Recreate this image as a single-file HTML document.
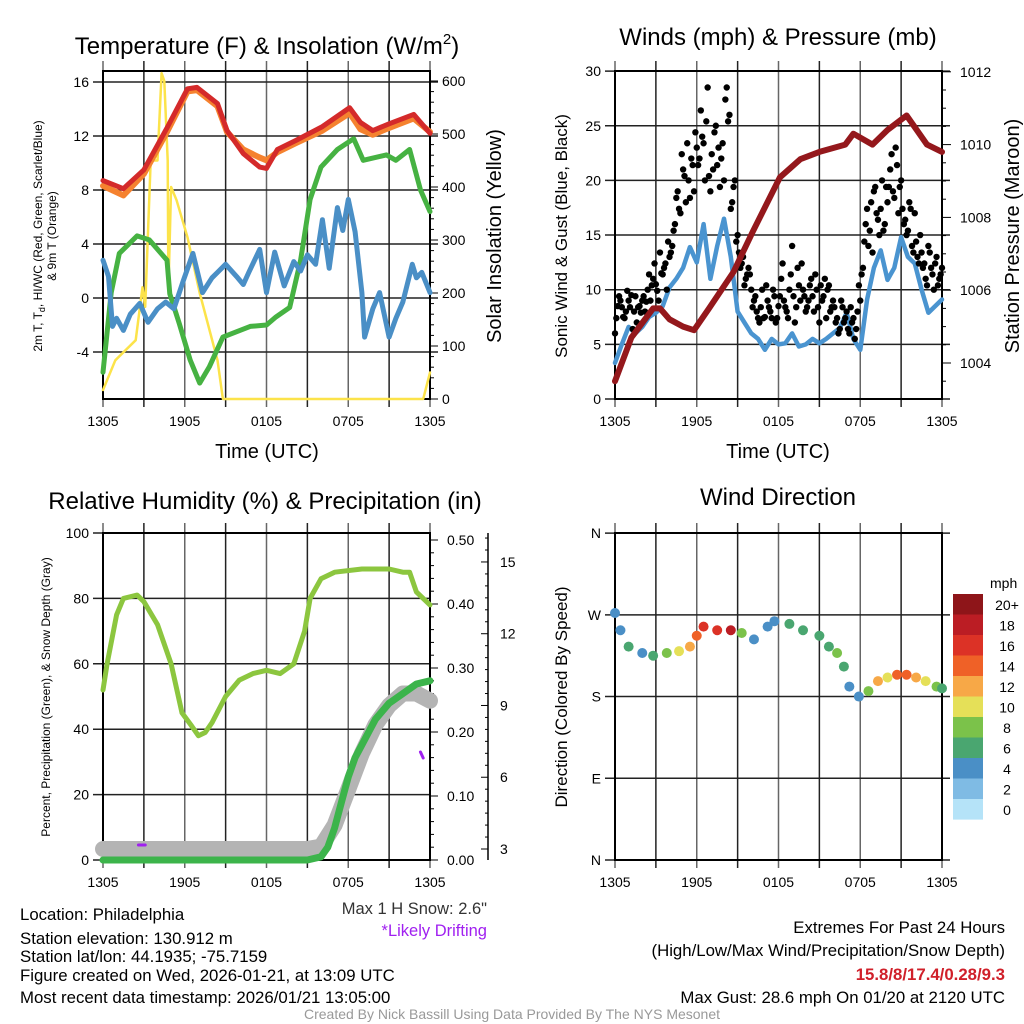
<!DOCTYPE html>
<html><head><meta charset="utf-8">
<style>
html,body{margin:0;padding:0;background:#fff;}
svg{display:block;font-family:"Liberation Sans",sans-serif;}
</style></head>
<body>
<svg id="c" width="1024" height="1024" viewBox="0 0 1024 1024" xmlns="http://www.w3.org/2000/svg">
<rect width="1024" height="1024" fill="#fff"/>
<text x="267" y="54" font-size="24" text-anchor="middle">Temperature (F) &amp; Insolation (W/m<tspan font-size="15" dy="-10">2</tspan><tspan dy="10">)</tspan></text>
<text x="778" y="45" font-size="24" text-anchor="middle">Winds (mph) &amp; Pressure (mb)</text>
<text x="265" y="509" font-size="24" text-anchor="middle">Relative Humidity (%) &amp; Precipitation (in)</text>
<text x="778" y="505" font-size="24" text-anchor="middle">Wind Direction</text>
<g id="g1"></g>
<g id="g2"></g>
<g id="g3"></g>
<g id="g4"></g>
<text x="267" y="458" font-size="20" text-anchor="middle">Time (UTC)</text>
<text x="778" y="458" font-size="20" text-anchor="middle">Time (UTC)</text>
<text transform="translate(42,236) rotate(-90)" font-size="12" text-anchor="middle">2m T, T<tspan font-size="9" dy="3">d</tspan><tspan dy="-3">, HI/WC (Red, Green, Scarlet/Blue)</tspan></text>
<text transform="translate(56,236) rotate(-90)" font-size="12" text-anchor="middle">&amp; 9m T (Orange)</text>
<text transform="translate(501,236) rotate(-90)" font-size="20" text-anchor="middle">Solar Insolation (Yellow)</text>
<text transform="translate(567,236) rotate(-90)" font-size="17" text-anchor="middle">Sonic Wind &amp; Gust (Blue, Black)</text>
<text transform="translate(1019,236) rotate(-90)" font-size="20" text-anchor="middle">Station Pressure (Maroon)</text>
<text transform="translate(50,697) rotate(-90)" font-size="12" text-anchor="middle">Percent, Precipitation (Green), &amp; Snow Depth (Gray)</text>
<text transform="translate(567,697) rotate(-90)" font-size="17" text-anchor="middle">Direction (Colored By Speed)</text>
<text x="487" y="914" font-size="16.5" text-anchor="end" fill="#333">Max 1 H Snow: 2.6"</text>
<text x="487" y="936" font-size="16.5" text-anchor="end" fill="#a020f0">*Likely Drifting</text>
<g font-size="16.8">
<text x="20" y="920">Location: Philadelphia</text>
<text x="20" y="944">Station elevation: 130.912 m</text>
<text x="20" y="962">Station lat/lon: 44.1935; -75.7159</text>
<text x="20" y="981">Figure created on Wed, 2026-01-21, at 13:09 UTC</text>
<text x="20" y="1003">Most recent data timestamp: 2026/01/21 13:05:00</text>
</g>
<g font-size="16.8" text-anchor="end">
<text x="1005" y="933">Extremes For Past 24 Hours</text>
<text x="1005" y="956">(High/Low/Max Wind/Precipitation/Snow Depth)</text>
<text x="1005" y="980" fill="#d0202a" font-weight="bold">15.8/8/17.4/0.28/9.3</text>
<text x="1005" y="1003">Max Gust: 28.6 mph On 01/20 at 2120 UTC</text>
</g>
<text x="512" y="1019" font-size="14" fill="#999" text-anchor="middle">Created By Nick Bassill Using Data Provided By The NYS Mesonet</text>
</svg>
<script>
const tempH=[0,1.5,3,4.7,6.2,6.9,8.4,9.1,10.3,11.5,12,12.8,14.2,16.1,18.1,18.9,19.8,21,22.8,24];
const tempV=[8.7,8.1,9.5,12.6,15.5,15.6,14.4,12.4,10.7,9.7,9.6,11,11.7,12.7,14.1,13,12.4,12.9,13.6,12.2];
const t9V=[8.3,7.6,9.2,12.3,15.3,15.4,14.2,12.3,11,10.4,10.2,10.8,11.5,12.4,13.7,12.5,12.1,12.6,13.3,12.3];
const hiH=[0,0.4,0.7,1,1.5,2,2.7,3.3,4,4.6,5.2,5.9,6.6,7.3,8,8.4,9,9.8,10.3,10.7,11.5,12,12.6,13.3,14,14.5,15,15.6,16.1,16.6,17.2,17.6,18,18.5,19,19.2,19.8,20.3,21,21.5,22,22.7,23,23.4,24];
const hiV=[2.8,1.6,-2.1,-1.5,-2.4,-1.2,-0.4,-1.8,-0.8,-0.3,-0.8,1.3,3.3,0.4,1.5,1.9,2.5,1.6,1,1.9,3.6,0.4,3.4,0.9,2.7,2,3.2,2.5,5.8,2.2,6.7,5,7.3,4.9,0.4,-2.9,-0.8,0.4,-2.9,-1.5,-0.3,2.5,1.5,1.9,0.4];
const tdH=[0,0.6,1.2,2.5,3.4,4.7,4.9,5.6,6.4,7.1,7.8,8.8,10.8,12,12.7,13.7,14.5,15.2,16,17.2,18.4,19.1,20.8,21.5,22.5,23.3,24];
const tdV=[-5.5,0.4,3.3,4.6,4.3,2.8,0.3,-1.9,-4.6,-6.3,-5.1,-2.9,-2.1,-2,-1.4,-0.7,2.8,7.3,9.7,11,11.8,10.2,10.6,10.2,11,8,6.4];
const sH=[0,0.9,2.4,2.9,3.1,3.5,4,4.3,4.5,4.75,4.8,5,5.4,6.2,7.1,8.4,8.8,23.5,24];
const sV=[17,73,111,211,174,450,450,615,600,450,205,400,375,305,200,73,0,0,50];
const windV=[3.3,5,6.6,6,6.6,7.5,7.9,8.5,10.2,11,12,13.9,12.5,16,11,14,16.5,13,8,7,6,5.5,4.5,5.5,5,5.1,6,4.8,5,5.5,5.1,5.5,6,6.5,7.9,5.5,4.5,9.1,12,13.6,10.9,12,14.8,13,12.4,10,7.9,8.5,9.1];
const gustA=[6,8.5,9,7.5,8,9,9.5,8,7,8.5,9,8,10,9,11,10.5,9,11.5,12,10,13,14,16,19,17,21,18,20,22,19,23,22,24,20,28.5,19,21,25,23,22,20,28.5,26,18,20,15,12,13,11,12,10,9,8,7,10,7.5,9,8,10,7,8.5,11,9,8,10,14,7,12,9,10,8,9,11,8,10,7,9,11,10,8,9,7,6,9,7,8,6,7,5.5,8,9,12,16,14,18,19,17,15,20,16,18,21,19,23,17,20,16,15,18,14,17,13,15,12,11,14,12,10,13,11,12];
const gustB=[7,9,8,7,9.5,8,6,9,8,7.5,9,8.5,11,10,12,9.5,13,11,12,14,13,15,18,17,22,20,23,18,21,24,21,26,23,25,20,22,24,21,19,23,27,25,17,19,14,13,12,10,11,11,8,9,7,8,7,10,8,7,9,7,9,12,8,7,11,9,8,10,12,9,8,10,9,11,8,10,9,7,10,8,8,7,6,8,7,6,8,7,6,10,11,14,17,15,13,19,16,17,15,19,19,22,18,21,19,17,16,15,17,13,14,12,13,12,10,13,11,12,10,11];
const pH=[0,1.2,2.8,3.3,4,5,5.8,6.9,8.7,10.1,12.1,13.6,15,16.9,17.5,18.9,20,21.4,22.9,24];
const pV=[1003.5,1004.7,1005.5,1005.5,1005.2,1005,1004.9,1005.5,1006.5,1007.6,1009.1,1009.6,1009.8,1010,1010.3,1010,1010.4,1010.8,1010,1009.8];
const rhH=[0,0.3,1,1.5,2.5,3,4,5,5.8,6.5,7,7.5,8,9,10,11,12,13,14,14.8,15.2,16,17,19,21,22,22.5,23,24];
const rhV=[52,60,75,80,81,79,72,60,45,41,38,39,42,50,55,57,58,57,60,70,80,86,88,89,89,88,88,82,78];
const prH=[0,15,16,16.5,17,17.5,18,18.5,19,19.5,20,21,22,23,24];
const prV=[0,0,0.005,0.02,0.05,0.09,0.13,0.16,0.18,0.2,0.22,0.245,0.26,0.275,0.28];
const snH=[0,15,16,17,18,19,20,21,22,23,24];
const snV=[3,3,3.1,4,5.5,7,8.2,9,9.5,9.5,9.2];
const dirH=[0,0.4,1,2,2.8,3.8,4.7,5.5,6,6.5,7.5,8.5,9.3,10.2,11.2,11.7,12.8,13.8,15,15.7,16.3,16.8,17.2,17.9,18.6,19.3,20,20.7,21.4,22.1,22.8,23.6,24];
const dirV=[272,253,235,228,225,228,230,235,247,257,253,253,250,243,257,263,260,253,247,235,228,213,191,180,186,197,201,204,204,201,197,191,189];
const dirS=[4,4,6,5,6,8,10,12,14,16,17,18,8,5,4,4,6,6,6,7,8,6,4,4,9,12,11,14,14,12,10,8,7];
const xLabels=["1305","1905","0105","0705","1305"];
const cbLabels=["20+","18","16","14","12","10","8","6","4","2","0"];
const cbColors=["#8e1519","#bb1d24","#dc3226","#ef6127","#f7a847","#e5e058","#7bc24a","#4aa670","#4a8fc6","#7fbbe4","#b5e3f8"];

const NS="http://www.w3.org/2000/svg";
function mk(p,tag,at){const e=document.createElementNS(NS,tag);for(const k in at)e.setAttribute(k,at[k]);p.appendChild(e);return e;}
function line(p,xs,ys,fx,fy,col,w,name){
  let d="";for(let i=0;i<xs.length;i++)d+=(i?"L":"M")+fx(xs[i]).toFixed(1)+","+fy(ys[i]).toFixed(1);
  const e=mk(p,"path",{d:d,fill:"none",stroke:col,"stroke-width":w,"stroke-linejoin":"round","stroke-linecap":"round"});
  
  
  return e;
}
function frame(p,x0,x1,y0,y1,yt,ytl,ylab){
  for(let k=0;k<=8;k++){const x=x0+(x1-x0)*k/8;mk(p,"line",{x1:x,y1:y0-10,x2:x,y2:y1+8,stroke:k%2?"#222":"#666","stroke-width":1.5});}
  for(let i=0;i<yt.length;i++){const y=yt[i];mk(p,"line",{x1:x0-10,y1:y,x2:x1+(ylab?0:8),y2:y,stroke:"#222","stroke-width":1.5});
    if(ytl){const t=mk(p,"text",{x:x0-14,y:y+5,"font-size":14,"text-anchor":"end"});t.textContent=ytl[i];}}
  mk(p,"rect",{x:x0,y:y0,width:x1-x0,height:y1-y0,fill:"none",stroke:"#000","stroke-width":2});
  for(let k=0;k<5;k++){const t=mk(p,"text",{x:x0+(x1-x0)*k/4,y:y1+27,"font-size":14,"text-anchor":"middle"});t.textContent=xLabels[k];
    }
}
(function(){
  const g=document.getElementById("g1");const x0=103,x1=430;
  const X=h=>x0+h/24*(x1-x0), YT=v=>298-v*13.5, YS=v=>399-v*0.53;
  const yt=[],ytl=[];for(let v=16;v>=-4;v-=4){yt.push(YT(v));ytl.push(String(v));}
  frame(g,x0,x1,71,399,yt,ytl);
  for(let v=0;v<=640;v+=20){const y=YS(v);if(y<71)break;mk(g,"line",{x1:x1,y1:y,x2:x1+(v%100?4:8),y2:y,stroke:"#000","stroke-width":1});}
  for(let v=0;v<=600;v+=100){const t=mk(g,"text",{x:x1+12,y:YS(v)+5,"font-size":14});t.textContent=v;}
  line(g,sH,sV,X,YS,"#fce34a",2.5,"solar-line");
  line(g,tdH,tdV,X,YT,"#46b242",5,"dewpoint-line");
  line(g,hiH,hiV,X,YT,"#4a8fc6",5,"heat-index-line");
  line(g,tempH,t9V,X,YT,"#f5822f",6,"temp-9m-line");
  line(g,tempH,tempV,X,YT,"#d42a2a",5,"temp-2m-line");
})();
(function(){
  const g=document.getElementById("g2");const x0=615,x1=942;
  const X=h=>x0+h/24*(x1-x0), YW=v=>399-v*10.93, YP=v=>363-(v-1004)*36.4;
  const yt=[],ytl=[];for(let v=30;v>=0;v-=5){yt.push(YW(v));ytl.push(String(v));}
  frame(g,x0,x1,71,399,yt,ytl);
  for(let v=1003;v<=1012;v+=0.5){const y=YP(v);if(y>399)continue;mk(g,"line",{x1:x1,y1:y,x2:x1+(v%2?4:9),y2:y,stroke:"#000","stroke-width":1});}
  for(let v=1004;v<=1012;v+=2){const t=mk(g,"text",{x:x1+18,y:YP(v)+5,"font-size":14});t.textContent=v;}
  const wH=windV.map((_,i)=>i*0.5);
  line(g,wH,windV,X,YW,"#4a94d0",4.5,"sustained-wind-line");
  gustA.forEach((v,i)=>{const c=mk(g,"circle",{cx:X(i*0.2),cy:YW(v),r:3.2,fill:"#000"});});
  gustB.forEach((v,i)=>{const c=mk(g,"circle",{cx:X(0.1+i*0.2),cy:YW(v+0.4),r:3.2,fill:"#000"});});
  line(g,pH,pV,X,YP,"#94181c",6,"pressure-line");
})();
(function(){
  const g=document.getElementById("g3");const x0=103,x1=430;
  const X=h=>x0+h/24*(x1-x0), YR=v=>860-v*3.27, YPr=v=>860-v*640, YSn=v=>849-(v-3)*23.92;
  const yt=[],ytl=[];for(let v=100;v>=0;v-=20){yt.push(YR(v));ytl.push(String(v));}
  frame(g,x0,x1,533,860,yt,ytl,true);
  for(let v=0;v<=0.5001;v+=0.02){const y=YPr(v);mk(g,"line",{x1:x1,y1:y,x2:x1+(Math.round(v*100)%10?4:8),y2:y,stroke:"#000","stroke-width":1});}
  for(let v=0;v<=0.5001;v+=0.1){const t=mk(g,"text",{x:x1+17,y:YPr(v)+5,"font-size":14});t.textContent=v.toFixed(2);}
  mk(g,"line",{x1:488,y1:533,x2:488,y2:860,stroke:"#000","stroke-width":1.5});
  for(let v=3;v<=16;v+=0.5){const y=YSn(v);if(y<533)continue;mk(g,"line",{x1:488,y1:y,x2:488-(v%3?3:7),y2:y,stroke:"#000","stroke-width":1});}
  for(let v=3;v<=15;v+=3){const t=mk(g,"text",{x:500,y:YSn(v)+5,"font-size":14});t.textContent=v;}
  line(g,snH,snV,X,YSn,"#b4b4b4",16,"snow-depth-line");
  line(g,rhH,rhV,X,YR,"#8cc63f",5,"humidity-line");
  line(g,prH,prV,X,YPr,"#3cb44b",7,"precip-line");
  mk(g,"line",{x1:X(2.6),y1:845,x2:X(3.1),y2:845,stroke:"#a020f0","stroke-width":3,"stroke-linecap":"round"});
  mk(g,"line",{x1:X(23.3),y1:752,x2:X(23.5),y2:758,stroke:"#a020f0","stroke-width":3,"stroke-linecap":"round"});
})();
(function(){
  const g=document.getElementById("g4");const x0=615,x1=942;
  const X=h=>x0+h/24*(x1-x0), YD=d=>860-d*0.908;
  const lab=["N","W","S","E","N"],yt=[],ytl=[];
  [360,270,180,90,0].forEach((d,i)=>{yt.push(YD(d));ytl.push(lab[i]);});
  frame(g,x0,x1,533,860,yt,ytl);
  function col(s){let i=Math.floor(s/2);if(i>10)i=10;if(i<0)i=0;return cbColors[10-i];}
  dirV.forEach((d,i)=>{const c=mk(g,"circle",{cx:X(dirH[i]),cy:YD(d),r:5,fill:col(dirS[i])});});
  const t=mk(g,"text",{x:990,y:588,"font-size":14});t.textContent="mph";
  cbColors.forEach((c,i)=>{const y=594+i*20.5;mk(g,"rect",{x:953,y:y,width:30,height:20.6,fill:c});
    const l=mk(g,"text",{x:1007,y:y+16,"font-size":14,"text-anchor":"middle"});l.textContent=cbLabels[i];});
})();
</script>
</body></html>
